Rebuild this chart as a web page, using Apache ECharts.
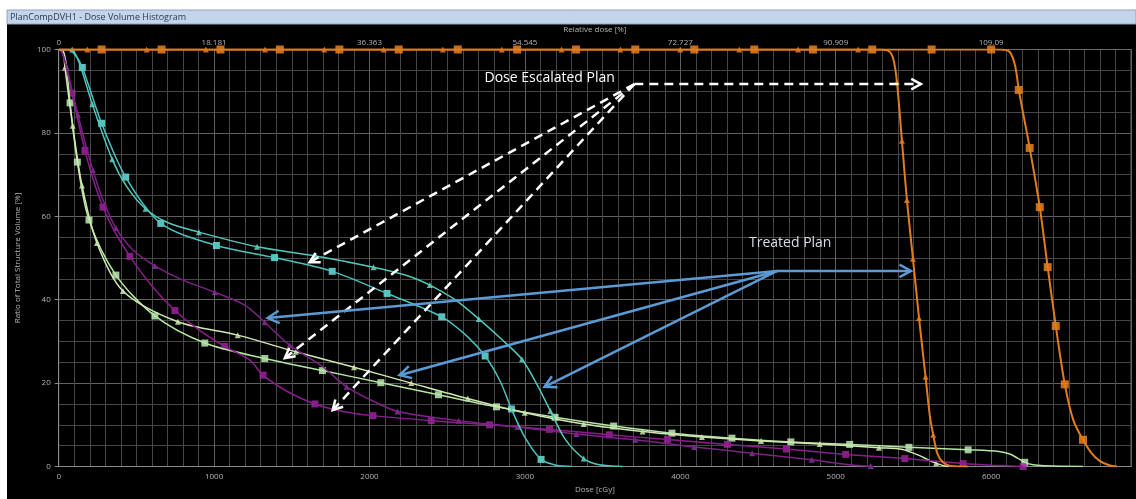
<!DOCTYPE html>
<html>
<head>
<meta charset="utf-8">
<script src="https://cdn.jsdelivr.net/npm/echarts@6/dist/echarts.min.js"></script>
<style>
  html, body { margin: 0; padding: 0; background: #fff; }
  #chart { width: 1136px; height: 499px; }
</style>
</head>
<body>
<div id="chart"></div>
<script>
// ---- axis ticks and labels ----
const doseTickLabels = ['0', '1000', '2000', '3000', '4000', '5000', '6000'];
const relDoseTickLabels = ['0', '18.181', '36.363', '54.545', '72.727', '90.909', '109.09'];
const volumeTickLabels = ['0', '20', '40', '60', '80', '100'];
const doseMax = 6900;

// ---- DVH curves: [dose cGy, volume %] ----
// PTV, dose escalated plan (orange, squares)
const ptvEscLine = [[0,100],[6060,100],[6120,99.4],[6155,96],[6178,90.3],[6248,76.4],[6313,62.2],[6364,47.8],[6416,33.7],[6474,19.7],[6530,11],[6591,6.4],[6650,3],[6700,1.3],[6760,0.3],[6810,0]];
const ptvEscMarks = [[276,100],[662,100],[1041,100],[1423,100],[1806,100],[2188,100],[2568,100],[2950,100],[3329,100],[3710,100],[4090,100],[4476,100],[4854,100],[5235,100],[5617,100],[6000,100],[6178,90.3],[6248,76.4],[6313,62.2],[6364,47.8],[6416,33.7],[6474,19.7],[6591,6.4]];
// PTV, treated plan (orange, triangles)
const ptvTrtLine = [[0,100],[5290,100],[5345,99.5],[5372,97.5],[5394,92.2],[5426,78.1],[5458,63.9],[5497,49.8],[5536,35.6],[5578,21.5],[5606,12],[5627,7.6],[5655,3],[5690,1],[5740,0.15],[5850,0]];
const ptvTrtMarks = [[184,100],[566,100],[947,100],[1328,100],[1709,100],[2091,100],[2472,100],[2851,100],[3236,100],[3614,100],[3999,100],[4379,100],[4758,100],[5144,100],[5394,92.2],[5426,78.1],[5458,63.9],[5497,49.8],[5536,35.6],[5578,21.5],[5627,7.6]];

// Organ A (cyan)
const cyanEscLine = [[0,100],[50,100],[100,99],[152,95.7],[276,82.3],[431,69.4],[657,58.3],[1015,53.0],[1389,50.1],[1760,46.8],[2113,41.5],[2465,35.9],[2620,31.5],[2744,26.5],[2840,20.5],[2913,13.8],[3000,7],[3104,1.7],[3200,0.3],[3300,0]];
const cyanEscMarks = [[152,95.7],[276,82.3],[431,69.4],[657,58.3],[1015,53.0],[1389,50.1],[1760,46.8],[2113,41.5],[2465,35.9],[2744,26.5],[2913,13.8],[3104,1.7]];
const cyanTrtLine = [[0,100],[80,100],[130,97],[216,86.9],[344,73.7],[440,67],[559,61.8],[700,58.5],[902,56.2],[1276,52.7],[1654,50.5],[2026,47.8],[2250,45.7],[2388,43.5],[2550,40],[2703,35.4],[2850,30.5],[2981,25.7],[3080,19.5],[3164,13.3],[3260,6.5],[3378,1.9],[3480,0.4],[3630,0]];
const cyanTrtMarks = [[87,100],[216,86.9],[344,73.7],[559,61.8],[902,56.2],[1276,52.7],[1654,50.5],[2026,47.8],[2388,43.5],[2703,35.4],[2981,25.7],[3164,13.3],[3378,1.9]];

// Organ B (green)
const greenEscLine = [[0,100],[30,99.5],[50,96],[73,87.2],[120,73.0],[195,59.1],[368,45.9],[619,36.1],[940,29.6],[1326,25.9],[1697,23.0],[2073,20.1],[2444,17.2],[2817,14.3],[3194,11.8],[3571,9.7],[3946,8.0],[4332,6.8],[4711,5.9],[5090,5.3],[5471,4.6],[5852,4.0],[6050,3.6],[6120,3.0],[6170,2.0],[6216,1.0],[6270,0.4],[6350,0.2],[6590,0]];
const greenEscMarks = [[73,87.2],[120,73.0],[195,59.1],[368,45.9],[619,36.1],[940,29.6],[1326,25.9],[1697,23.0],[2073,20.1],[2444,17.2],[2817,14.3],[3194,11.8],[3571,9.7],[3946,8.0],[4332,6.8],[4711,5.9],[5090,5.3],[5471,4.6],[5852,4.0],[6216,1.0]];
const greenTrtLine = [[0,100],[25,100],[40,95.7],[90,81.7],[150,67.4],[246,53.6],[413,42.1],[767,34.7],[1152,31.5],[1525,27.5],[1900,23.8],[2269,20.0],[2632,16.3],[2999,12.9],[3378,10.2],[3757,8.4],[4139,7.1],[4520,6.1],[4897,5.4],[5278,4.5],[5430,4.1],[5540,2.6],[5600,1.5],[5646,0.8],[5700,0.1],[5730,0]];
const greenTrtMarks = [[40,95.7],[90,81.7],[150,67.4],[246,53.6],[413,42.1],[767,34.7],[1152,31.5],[1525,27.5],[1900,23.8],[2269,20.0],[2632,16.3],[2999,12.9],[3378,10.2],[3757,8.4],[4139,7.1],[4520,6.1],[4897,5.4],[5278,4.5],[5646,0.8]];

// Organ C (purple)
const purpleEscLine = [[0,100],[21,99.4],[53,95],[85,89.5],[124,83],[169,75.8],[220,69],[285,62.2],[362,56.2],[458,50.4],[587,43.9],[748,37.4],[909,32.6],[1069,28.8],[1230,25.5],[1315,21.9],[1480,17.8],[1649,15.0],[1830,13.2],[2022,12.2],[2397,11.0],[2772,10.0],[3158,8.9],[3543,7.6],[3918,6.5],[4303,5.3],[4683,4.2],[5064,2.9],[5445,1.9],[5820,0.7],[6000,0.3],[6206,0]];
const purpleEscMarks = [[85,89.5],[169,75.8],[285,62.2],[458,50.4],[748,37.4],[1069,28.8],[1315,21.9],[1649,15.0],[2022,12.2],[2397,11.0],[2772,10.0],[3158,8.9],[3543,7.6],[3918,6.5],[4303,5.3],[4683,4.2],[5064,2.9],[5445,1.9],[5820,0.7],[6206,0]];
const purpleTrtLine = [[0,100],[21,99.4],[53,95.6],[85,90.3],[124,84.3],[169,77.8],[220,71.1],[285,63.9],[368,57.2],[478,51.9],[619,48.1],[799,44.7],[1004,41.8],[1197,38.7],[1326,34.6],[1486,29.1],[1692,24.1],[1853,19.1],[2033,15.5],[2181,13.2],[2573,11.0],[2952,9.5],[3331,7.8],[3710,6.4],[4089,4.7],[4462,3.2],[4846,1.6],[5085,0.4],[5246,0]];
const purpleTrtMarks = [[53,95.6],[124,84.3],[220,71.1],[368,57.2],[619,48.1],[1004,41.8],[1326,34.6],[1486,29.1],[1853,19.1],[2181,13.2],[2573,11.0],[2952,9.5],[3331,7.8],[3710,6.4],[4089,4.7],[4462,3.2],[4846,1.6],[5225,0.1]];

// ---- annotations: [dose, volume] anchors ----
const escalatedLabel = { text: 'Dose Escalated Plan', at: [2740, 93.2] };
const treatedLabel = { text: 'Treated Plan', at: [4442, 53.6] };
const escalatedFrom = [3704, 91.7];
const escalatedTargets = [[5548, 91.7], [1615, 49.0], [1455, 26.0], [1763, 13.5]];
const treatedFrom = [4623, 46.9];
const treatedTargets = [[5484, 46.9], [1345, 35.6], [2193, 21.9], [3126, 19.1]];

const curves = [
  { line: greenEscLine,  marks: greenEscMarks,  color: '#b4e6a4', mark: '#c8f7bf', symbol: 'rect', size: 7, width: 1.5 },
  { line: greenTrtLine,  marks: greenTrtMarks,  color: '#cfe9b0', mark: '#d6f2b6', symbol: 'triangle', size: 6, width: 1.5 },
  { line: purpleEscLine, marks: purpleEscMarks, color: '#8c1c8c', mark: '#a626a6', symbol: 'rect', size: 7, width: 1.5 },
  { line: purpleTrtLine, marks: purpleTrtMarks, color: '#7c2286', mark: '#8c3aa6', symbol: 'triangle', size: 6, width: 1.5 },
  { line: cyanEscLine,   marks: cyanEscMarks,   color: '#4cc2c0', mark: '#70f2ee', symbol: 'rect', size: 7, width: 1.5 },
  { line: cyanTrtLine,   marks: cyanTrtMarks,   color: '#52c8bc', mark: '#6ee0d0', symbol: 'triangle', size: 6, width: 1.5 },
  { line: ptvTrtLine,    marks: ptvTrtMarks,    color: '#e37c1c', mark: '#f2861e', symbol: 'triangle', size: 6, width: 2 },
  { line: ptvEscLine,    marks: ptvEscMarks,    color: '#e37c1c', mark: '#f7891f', symbol: 'rect', size: 8, width: 2 }
];

const series = [];
curves.forEach(c => {
  series.push({
    type: 'line', data: c.line, xAxisIndex: 1, yAxisIndex: 1,
    smooth: 0.3, showSymbol: false, silent: true, clip: true,
    lineStyle: { color: c.color, width: c.width }
  });
  series.push({
    type: 'scatter', data: c.marks, xAxisIndex: 1, yAxisIndex: 1,
    symbol: c.symbol, symbolSize: c.size, silent: true,
    itemStyle: { color: c.mark }
  });
});

const labelFont = { color: '#b4b4b4', fontSize: 8, fontFamily: 'Open Sans' };

const chart = echarts.init(document.getElementById('chart'), null, { renderer: 'canvas' });
chart.setOption({
  animation: false,
  backgroundColor: '#000',
  grid: { left: 58.7, right: 5, top: 49.5, bottom: 32.5, show: true, borderColor: '#6a6a6a', borderWidth: 1 },
  xAxis: [
    { // fine grid, every 100 cGy
      type: 'value', min: 0, max: doseMax, interval: 100, position: 'bottom',
      axisLine: { show: false }, axisTick: { show: false }, axisLabel: { show: false },
      splitLine: { lineStyle: { color: '#474747', width: 1 } }
    },
    { // dose axis
      type: 'value', min: 0, max: doseMax, interval: 1000, position: 'bottom',
      name: 'Dose [cGy]', nameLocation: 'middle', nameGap: 10, nameTextStyle: labelFont,
      axisLine: { show: true, lineStyle: { color: '#8a8a8a' } },
      axisTick: { show: false },
      axisLabel: Object.assign({ margin: 6, formatter: v => doseTickLabels[v / 1000] || '' }, labelFont),
      splitLine: { lineStyle: { color: '#606060', width: 1 } }
    },
    { // relative dose axis
      type: 'value', min: 0, max: doseMax, interval: 1000, position: 'top',
      name: 'Relative dose [%]', nameLocation: 'middle', nameGap: 6, nameTextStyle: labelFont,
      axisLine: { show: true, lineStyle: { color: '#6a6a6a' } },
      axisTick: { show: false },
      axisLabel: Object.assign({ margin: 3, formatter: v => relDoseTickLabels[v / 1000] || '' }, labelFont),
      splitLine: { show: false }
    }
  ],
  yAxis: [
    { // fine grid, every 5 %
      type: 'value', min: 0, max: 100, interval: 5, position: 'left',
      axisLine: { show: false }, axisTick: { show: false }, axisLabel: { show: false },
      splitLine: { lineStyle: { color: '#474747', width: 1 } }
    },
    { // volume axis
      type: 'value', min: 0, max: 100, interval: 20, position: 'left',
      name: 'Ratio of Total Structure Volume [%]', nameLocation: 'middle', nameGap: 37,
      nameTextStyle: labelFont,
      axisLine: { show: true, lineStyle: { color: '#8a8a8a' } },
      axisTick: { show: true, length: 4, lineStyle: { color: '#8a8a8a' } },
      axisLabel: Object.assign({ margin: 8, formatter: v => volumeTickLabels[v / 20] || '' }, labelFont),
      splitLine: { lineStyle: { color: '#606060', width: 1 } }
    }
  ],
  series: series
});

// ---- window frame, title bar and annotation arrows ----
function arrow(from, to, color, width, dash, head) {
  const p0 = chart.convertToPixel({ xAxisIndex: 1, yAxisIndex: 1 }, from);
  const p1 = chart.convertToPixel({ xAxisIndex: 1, yAxisIndex: 1 }, to);
  const ang = Math.atan2(p1[1] - p0[1], p1[0] - p0[0]);
  const spread = 0.5;
  const h1 = [p1[0] - head * Math.cos(ang - spread), p1[1] - head * Math.sin(ang - spread)];
  const h2 = [p1[0] - head * Math.cos(ang + spread), p1[1] - head * Math.sin(ang + spread)];
  return [
    { type: 'line', z: 50, silent: true,
      shape: { x1: p0[0], y1: p0[1], x2: p1[0], y2: p1[1] },
      style: { stroke: color, lineWidth: width, lineDash: dash, lineCap: 'butt' } },
    { type: 'polyline', z: 50, silent: true,
      shape: { points: [h1, p1, h2] },
      style: { stroke: color, lineWidth: width, fill: null, lineJoin: 'miter' } }
  ];
}

function label(item, color) {
  const p = chart.convertToPixel({ xAxisIndex: 1, yAxisIndex: 1 }, item.at);
  return { type: 'text', z: 50, silent: true, x: p[0], y: p[1],
    style: { text: item.text, fill: color, font: '14px "Open Sans"', textVerticalAlign: 'middle', textAlign: 'left' } };
}

const graphics = [
  { type: 'rect', z: 100, silent: true, shape: { x: 0, y: 0, width: 1136, height: 10 }, style: { fill: '#fff' } },
  { type: 'rect', z: 100, silent: true, shape: { x: 0, y: 0, width: 7, height: 499 }, style: { fill: '#fff' } },
  { type: 'rect', z: 101, silent: true, shape: { x: 7, y: 10, width: 1129, height: 14 },
    style: { fill: '#c3d5ea', stroke: '#8ea4bd', lineWidth: 1 } },
  { type: 'text', z: 102, silent: true, x: 10, y: 17,
    style: { text: 'PlanCompDVH1 - Dose Volume Histogram', fill: '#2e3a4a', font: '9px "Open Sans"', textVerticalAlign: 'middle' } },
  label(escalatedLabel, '#ffffff'),
  label(treatedLabel, '#d8dde4')
];
escalatedTargets.forEach(t => graphics.push(...arrow(escalatedFrom, t, '#ffffff', 2.5, [9, 6], 11)));
treatedTargets.forEach(t => graphics.push(...arrow(treatedFrom, t, '#5b9bd5', 2.5, null, 13)));

chart.setOption({ graphic: graphics });
</script>
</body>
</html>
